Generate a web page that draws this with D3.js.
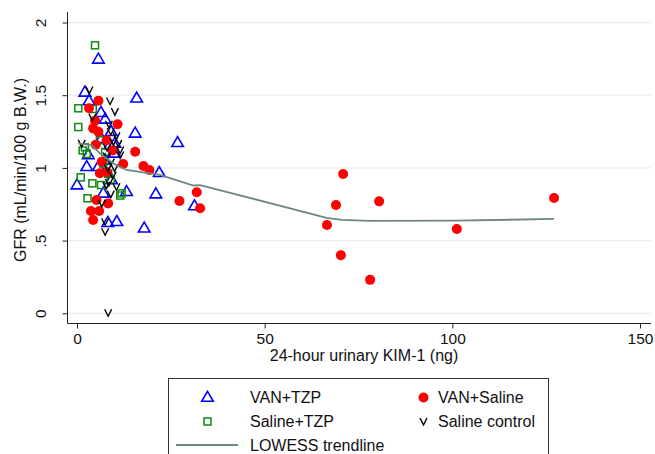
<!DOCTYPE html>
<html><head><meta charset="utf-8">
<script src="https://cdn.jsdelivr.net/npm/d3@7"></script>
<style>
body{margin:0;background:#fff;}
svg{display:block;font-family:"Liberation Sans",Arial,sans-serif;}
</style></head>
<body><svg id="c" width="655" height="454"></svg>
<script>
// ---- data ----
const vanTzp = [[5.7,1.747],[2.1,1.52],[3.2,1.46],[15.9,1.479],[6.4,1.38],[7.5,1.334],[9.1,1.249],[15.5,1.238],[26.8,1.173],[8.8,1.157],[3.0,1.089],[2.6,1.008],[21.9,0.967],[0,0.882],[7.0,0.825],[13.2,0.836],[21.0,0.82],[31.3,0.738],[8.2,0.623],[10.6,0.63],[17.9,0.585],[10.1,1.169],[10.1,1.10],[5.7,1.008],[7.5,1.054],[9.2,0.917],[6.5,1.20]];
const vanSaline = [[127.1,0.793],[101.2,0.58],[80.5,0.77],[70.9,0.958],[69.0,0.745],[66.6,0.607],[70.3,0.40],[78.1,0.23],[32.8,0.722],[31.9,0.832],[27.3,0.772],[19.3,0.986],[17.7,1.013],[12.3,1.027],[15.5,1.111],[10.8,1.30],[5.7,1.462],[3.2,1.41],[4.8,1.325],[4.3,1.272],[7.9,1.19],[6.1,0.963],[5.2,0.779],[8.3,0.756],[3.7,0.703],[5.9,0.703],[4.3,0.642],[5.7,1.249],[5.0,1.16],[6.6,1.043],[9.5,1.12],[8.0,0.97]];
const salineTzp = [[4.8,1.843],[0.35,1.41],[4.2,1.405],[0.35,1.281],[6.1,1.19],[2.1,1.142],[2.6,1.096],[1.0,0.935],[4.1,0.894],[6.4,0.882],[11.9,0.825],[2.8,0.791],[7.5,1.11],[11.5,0.81],[7.0,1.03],[8.3,0.96],[9.0,0.92],[1.5,1.12]];
const salineCtrl = [[3.3,1.536],[8.8,1.46],[10.1,1.387],[4.1,1.348],[1.25,1.169],[9.7,1.18],[11.0,1.169],[11.5,1.123],[7.9,1.082],[11.5,1.089],[6.6,0.756],[7.5,0.63],[7.5,0.561],[8.3,0.004],[8.5,1.30],[9.0,1.25],[10.5,1.22],[8.0,1.14],[9.0,1.04],[10.0,1.00],[9.5,0.95],[8.5,0.90],[10.5,0.87],[9.0,0.82],[7.8,0.88],[8.2,1.0]];
const lowess = [[0.35,1.169],[3.9,1.157],[6.1,1.10],[9.7,1.03],[13.2,0.986],[22.1,0.952],[31.0,0.879],[32.8,0.882],[66.5,0.657],[70.5,0.642],[78.1,0.635],[101.2,0.637],[127.1,0.649]];
const xTicks = [0,50,100,150];
const yTicks = [0,0.5,1,1.5,2];
const yTickLabels = ["0",".5","1","1.5","2"];
const xTitle = "24-hour urinary KIM-1 (ng)";
const yTitle = "GFR (mL/min/100 g B.W.)";
const legendItems = ["VAN+TZP","VAN+Saline","Saline+TZP","Saline control","LOWESS trendline"];

// ---- chart ----
const svg = d3.select("#c");
const x = d3.scaleLinear().domain([0,150]).range([77,640]);
const y = d3.scaleLinear().domain([0,2]).range([313.3,22.5]);
const axisX0 = 67.5, axisY0 = 323.5, plotRight = 651;

// gridlines
svg.append("g").selectAll("line").data(yTicks).join("line")
  .attr("x1",axisX0).attr("x2",plotRight)
  .attr("y1",d=>y(d)).attr("y2",d=>y(d))
  .attr("stroke","#e6eef3").attr("stroke-width",1.3);

// y axis
const gy = svg.append("g").attr("transform",`translate(${axisX0},0)`)
  .call(d3.axisLeft(y).tickValues(yTicks).tickFormat((d,i)=>yTickLabels[i]).tickSize(5).tickSizeOuter(0));
gy.select(".domain").attr("d",`M0,12V${axisY0}`).attr("stroke","#222");
gy.selectAll(".tick line").attr("stroke","#222");
gy.selectAll(".tick text").attr("transform","rotate(-90)").attr("x",0).attr("y",-22).attr("dy",0)
  .attr("text-anchor","middle").attr("font-size",15.5).attr("fill","#111").attr("font-family","Liberation Sans, Arial, sans-serif");

// x axis
const gx = svg.append("g").attr("transform",`translate(0,${axisY0})`)
  .call(d3.axisBottom(x).tickValues(xTicks).tickSize(5).tickSizeOuter(0));
gx.select(".domain").attr("d",`M${axisX0},0H${plotRight}`).attr("stroke","#222");
gx.selectAll(".tick line").attr("stroke","#222");
gx.selectAll(".tick text").attr("y",9).attr("dy","0.71em").attr("font-size",15.5).attr("fill","#111")
  .attr("font-family","Liberation Sans, Arial, sans-serif");

// titles
svg.append("text").attr("x",364).attr("y",361).attr("text-anchor","middle")
  .attr("font-size",16).attr("fill","#111").text(xTitle);
svg.append("text").attr("transform","translate(26,170) rotate(-90)").attr("text-anchor","middle")
  .attr("font-size",16).attr("fill","#111").text(yTitle);

// marker shapes
const triPath = (s)=>`M0,${-s*0.62}L${s*0.58},${s*0.38}L${-s*0.58},${s*0.38}Z`;
function drawTri(g,cx,cy){ g.append("path").attr("d",triPath(10)).attr("transform",`translate(${cx},${cy})`)
  .attr("fill","none").attr("stroke","#0000ff").attr("stroke-width",1.6); }
function drawSq(g,cx,cy){ g.append("rect").attr("x",cx-3.5).attr("y",cy-3.5).attr("width",7).attr("height",7)
  .attr("fill","none").attr("stroke","#118811").attr("stroke-width",1.5); }
function drawCirc(g,cx,cy){ g.append("circle").attr("cx",cx).attr("cy",cy).attr("r",5).attr("fill","#ff0000"); }
function drawV(g,cx,cy){ g.append("path").attr("d",`M${cx-3.5},${cy-3.5}L${cx},${cy+3.5}L${cx+3.5},${cy-3.5}`)
  .attr("fill","none").attr("stroke","#000").attr("stroke-width",1.4); }

const pts = svg.append("g");
vanTzp.forEach(d=>drawTri(pts,x(d[0]),y(d[1])));
salineTzp.forEach(d=>drawSq(pts,x(d[0]),y(d[1])));
vanSaline.forEach(d=>drawCirc(pts,x(d[0]),y(d[1])));
salineCtrl.forEach(d=>drawV(pts,x(d[0]),y(d[1])));

// lowess line
svg.append("path").datum(lowess)
  .attr("d",d3.line().x(d=>x(d[0])).y(d=>y(d[1])))
  .attr("fill","none").attr("stroke","#6b8a7c").attr("stroke-width",1.8);

// legend
const lg = svg.append("g");
lg.append("rect").attr("x",168.5).attr("y",378.5).attr("width",380).attr("height",90)
  .attr("fill","#fff").attr("stroke","#333").attr("stroke-width",1);
const lf = 16;
drawTri(lg,207.5,397.5);
lg.append("text").attr("x",250).attr("y",403).attr("font-size",lf).attr("fill","#111").text(legendItems[0]);
drawCirc(lg,423.5,397.5);
lg.append("text").attr("x",438).attr("y",403).attr("font-size",lf).attr("fill","#111").text(legendItems[1]);
drawSq(lg,207.5,421.5);
lg.append("text").attr("x",250).attr("y",427).attr("font-size",lf).attr("fill","#111").text(legendItems[2]);
drawV(lg,423.5,421.5);
lg.append("text").attr("x",438).attr("y",427).attr("font-size",lf).attr("fill","#111").text(legendItems[3]);
lg.append("line").attr("x1",176).attr("x2",238).attr("y1",445).attr("y2",445)
  .attr("stroke","#6b8a7c").attr("stroke-width",1.8);
lg.append("text").attr("x",250).attr("y",451).attr("font-size",lf).attr("fill","#111").text(legendItems[4]);
</script></body></html>
